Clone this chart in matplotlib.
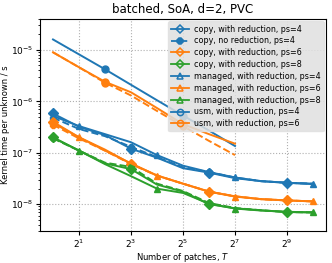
import matplotlib
matplotlib.use("Agg")
import matplotlib.pyplot as plt
from matplotlib.lines import Line2D
from matplotlib.ticker import LogLocator, FixedLocator, NullLocator, LogFormatterSciNotation

exps = list(range(11))
patches = [2 ** e for e in exps]
patches_usm = [2 ** e for e in range(8)]

copy_red_4 = [5.8e-7, 3.2e-7, 2.2e-7, 1.2e-7, 8.0e-8, 5.0e-8, 4.1e-8, 3.2e-8, 2.8e-8, 2.6e-8, 2.5e-8]
copy_nored_4 = [4.8e-7, 2.9e-7, 2.1e-7, 1.3e-7, 8.2e-8, 5.2e-8, 4.2e-8, 3.3e-8, 2.8e-8, 2.6e-8, 2.5e-8]
copy_red_6 = [4.0e-7, 2.0e-7, 1.15e-7, 6.1e-8, 3.6e-8, 2.5e-8, 1.75e-8, 1.42e-8, 1.25e-8, 1.18e-8, 1.13e-8]
copy_nored_6 = [3.5e-7, 1.9e-7, 1.1e-7, 6.0e-8, 3.6e-8, 2.5e-8, 1.75e-8, 1.42e-8, 1.25e-8, 1.18e-8, 1.13e-8]
copy_red_8 = [2.0e-7, 1.1e-7, 6.2e-8, 4.8e-8, 2.4e-8, 1.75e-8, 1.0e-8, 8.3e-9, 7.6e-9, 7.0e-9, 6.9e-9]
copy_nored_8 = [1.9e-7, 1.1e-7, 6.4e-8, 5.3e-8, 2.5e-8, 1.8e-8, 1.05e-8, 8.4e-9, 7.6e-9, 7.0e-9, 6.9e-9]
managed_4 = [5.2e-7, 3.3e-7, 2.3e-7, 1.6e-7, 9.0e-8, 5.6e-8, 4.2e-8, 3.3e-8, 2.8e-8, 2.6e-8, 2.45e-8]
managed_6 = [3.8e-7, 2.0e-7, 1.1e-7, 6.2e-8, 3.6e-8, 2.5e-8, 1.75e-8, 1.4e-8, 1.25e-8, 1.18e-8, 1.13e-8]
managed_8 = [1.95e-7, 1.1e-7, 6.0e-8, 3.5e-8, 2.0e-8, 1.65e-8, 1.02e-8, 8.2e-9, 7.5e-9, 7.1e-9, 6.9e-9]
usm_4 = [1.6e-5, 8.2e-6, 4.2e-6, 2.1e-6, 1.05e-6, 5.3e-7, 2.7e-7, 1.35e-7]
usm_6 = [9.0e-6, 4.6e-6, 2.4e-6, 1.5e-6, 7.4e-7, 3.6e-7, 2.3e-7, 1.5e-7]
usm_nored_6 = [9.0e-6, 4.6e-6, 2.3e-6, 1.3e-6, 6.5e-7, 3.3e-7, 1.7e-7, 9.0e-8]

labels = [
    "copy, with reduction, ps=4",
    "copy, no reduction, ps=4",
    "copy, with reduction, ps=6",
    "copy, with reduction, ps=8",
    "managed, with reduction, ps=4",
    "managed, with reduction, ps=6",
    "managed, with reduction, ps=8",
    "usm, with reduction, ps=4",
    "usm, with reduction, ps=6",
]

B, O, G = "#1f77b4", "#ff7f0e", "#2ca02c"

fig = plt.figure(figsize=(3.32, 2.63), dpi=100)
ax = fig.add_axes([40 / 332, 1 - 231 / 263, 286 / 332, 212 / 263])

# (x, y, color, linestyle, marker, filled_legend, markevery offset, label)
series = [
    (patches, copy_red_4, B, "-", "D", False, 0, labels[0]),
    (patches, copy_nored_4, B, "--", "8", True, 0, labels[1]),
    (patches, copy_red_6, O, "-", "D", False, 0, labels[2]),
    (patches, copy_nored_6, O, "--", "8", True, 0, None),
    (patches, copy_red_8, G, "-", "D", False, 0, labels[3]),
    (patches, copy_nored_8, G, "--", "8", True, 0, None),
    (patches, managed_4, B, "-", "^", False, 1, labels[4]),
    (patches, managed_6, O, "-", "^", False, 1, labels[5]),
    (patches, managed_8, G, "-", "^", False, 1, labels[6]),
    (patches_usm, usm_4, B, "-", "o", False, 2, labels[7]),
    (patches_usm, usm_6, O, "-", "o", False, 2, labels[8]),
    (patches_usm, usm_nored_6, O, "--", "o", True, 2, None),
]

handles = {}
for x, y, c, ls, m, filled, off, lab in series:
    ax.plot(x, y, color=c, ls=ls, lw=1.4, marker=m, ms=5,
            markevery=(off, 3), mfc=c, mec=c, mew=1.0)
    if lab is not None:
        handles[lab] = Line2D([], [], color=c, ls=ls, lw=1.3, marker=m, ms=4.5,
                              mfc=(c if filled else "none"), mec=c, mew=1.1)

ax.set_xscale("log", base=2)
ax.set_yscale("log")
ax.set_xlim(2 ** -0.5, 2 ** 10.5)
ax.set_ylim(3e-9, 4e-5)
ax.xaxis.set_major_locator(FixedLocator([2, 8, 32, 128, 512]))
ax.xaxis.set_major_formatter(LogFormatterSciNotation(base=2))
ax.xaxis.set_minor_locator(NullLocator())
ax.yaxis.set_major_locator(LogLocator(base=10))
ax.yaxis.set_minor_locator(LogLocator(base=10, subs=range(2, 10)))
ax.tick_params(axis="both", which="major", labelsize=6.5, length=3, pad=1.5)
ax.tick_params(axis="y", which="minor", length=1.5)
ax.grid(True, which="major", ls=":", color="#b0b0b0", lw=0.8)

ax.set_title("batched, SoA, d=2, PVC", fontsize=8.5, pad=4)
ax.set_xlabel("Number of patches, $T$", fontsize=6, labelpad=1)
ax.set_ylabel("Kernel time per unknown / s", fontsize=6, labelpad=1)

leg = ax.legend([handles[l] for l in labels], labels, loc="upper right",
                fontsize=5.8, facecolor="#e0e0e0", edgecolor="#e0e0e0",
                framealpha=0.85, handlelength=2.2, labelspacing=0.35,
                borderpad=0.4, handletextpad=0.6, borderaxespad=0.3)

fig.savefig("out.png", dpi=100)
